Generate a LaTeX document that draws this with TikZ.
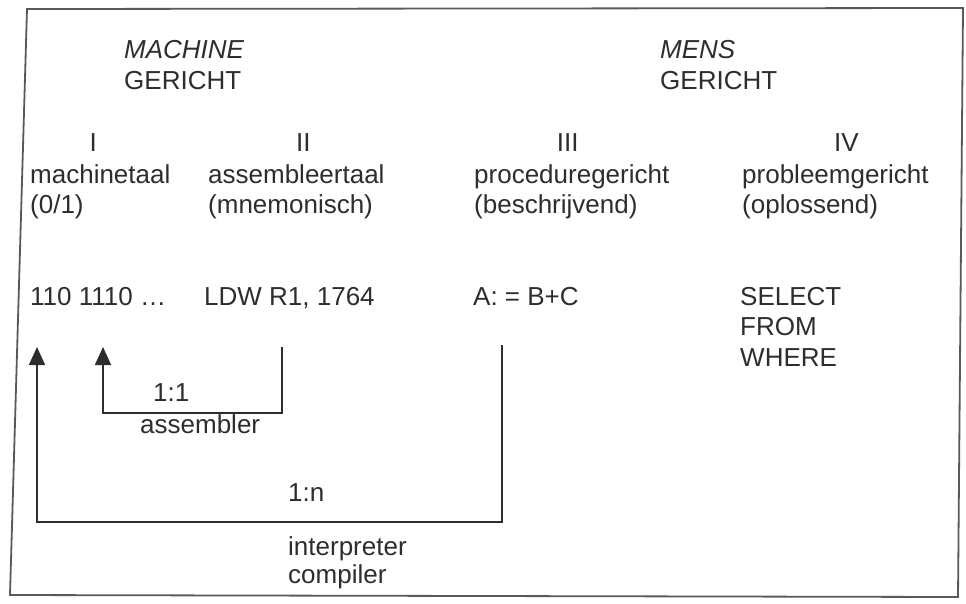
\documentclass[tikz,border=0pt]{standalone}
\usepackage{fontspec}
\setmainfont{Liberation Sans}
\usetikzlibrary{positioning,arrows.meta}
\definecolor{ink}{RGB}{45,45,45}
\begin{document}
\begin{tikzpicture}[x=1pt, y=-1pt,
  txt/.style={anchor=north west, inner sep=0pt, align=left, text=ink,
    font=\fontsize{26}{30}\selectfont},
  num/.style={above=12pt, inner sep=0pt, text=ink, font=\fontsize{26}{28}\selectfont},
  conn/.style={draw=ink, line width=1.6pt},
  tip/.style={-{Triangle[width=16pt,length=18pt]}}]
  \useasboundingbox (0,0) rectangle (966,603);
  \draw[gray!70!black, line width=1.8pt] (27,9) -- (963,8) -- (958,597) -- (10,595) -- cycle;
  % headings
  \node[txt, font=\fontsize{26}{31}\selectfont] (hmach) at (124,40) {{\itshape MACHINE}\\GERICHT};
  \node[txt, font=\fontsize{26}{31}\selectfont] (hmens) at (660,40) {{\itshape MENS}\\GERICHT};
  % the four generations
  \node[txt] (w1) at (30,164) {machinetaal\\(0/1)};
  \node[txt] (w2) at (208,164) {assembleertaal\\(mnemonisch)};
  \node[txt] (w3) at (474,164) {proceduregericht\\(beschrijvend)};
  \node[txt] (w4) at (742,164) {probleemgericht\\(oplossend)};
  \node[num, xshift=-7pt] (n1) at (w1.north) {I};
  \node[num, xshift=7pt] (n2) at (w2.north) {II};
  \node[num, xshift=-4pt] (n3) at (w3.north) {III};
  \node[num, xshift=11pt] (n4) at (w4.north) {IV};
  % examples
  \node[txt] (c1) at (30,287) {110 1110 \ldots};
  \node[txt] (c2) at (204,287) {LDW R1, 1764};
  \node[txt] (c3) at (473,287) {A: = B+C};
  \node[txt, font=\fontsize{26}{30.5}\selectfont] (c4) at (740,287) {SELECT\\FROM\\WHERE};
  % translations
  \coordinate (asmsrc) at (282,347);
  \coordinate (asmdst) at (103,347);
  \coordinate (cmpsrc) at (502,345);
  \coordinate (cmpdst) at (37,347);
  \draw[conn, tip] (asmsrc) -- ++(0,66) -| (asmdst);
  \draw[conn, tip] (cmpsrc) -- ++(0,177) -| (cmpdst);
  \node[txt] (r11) at (153,383) {1:1};
  \node[txt] (lasm) at (140,414) {assembler};
  \node[txt] (r1n) at (288,483) {1:n};
  \node[txt, font=\fontsize{26}{28}\selectfont] (lcmp) at (288,536) {interpreter\\compiler};
\end{tikzpicture}
\end{document}
